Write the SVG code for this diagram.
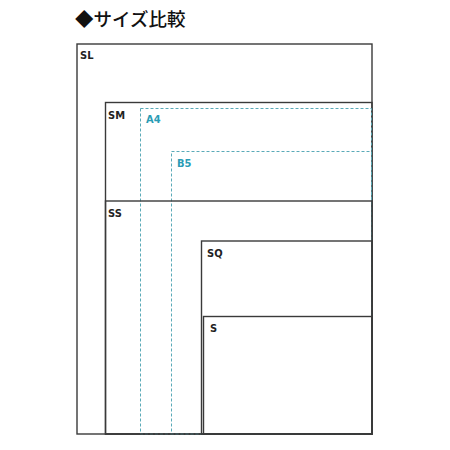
<svg xmlns="http://www.w3.org/2000/svg" width="450" height="450" viewBox="0 0 450 450">
<style>
.box{fill:none;stroke:#3a3a3a;stroke-width:1.4}
.dash{fill:none;stroke:#5aaab8;stroke-width:1;stroke-dasharray:3,2}
.lbl{font-family:"DejaVu Sans Condensed","DejaVu Sans",sans-serif;font-stretch:condensed;font-weight:bold;font-size:11px;fill:#222}
.lblc{font-family:"DejaVu Sans Condensed","DejaVu Sans",sans-serif;font-stretch:condensed;font-weight:bold;font-size:11px;fill:#2a9cb5}
.title{font-family:"Noto Sans CJK JP",sans-serif;font-size:18.5px;font-weight:500;fill:#111}
</style>
<rect width="450" height="450" fill="#fff"/>
<text class="title" x="75" y="26">◆サイズ比較</text>
<g id="SL"><rect class="box" x="77" y="44" width="295" height="390"/><text class="lbl" x="80" y="59">SL</text></g>
<g id="SM"><rect class="box" x="105.5" y="102.5" width="266.5" height="331.5"/><text class="lbl" x="108" y="119">SM</text></g>
<g id="A4"><rect class="dash" x="140.5" y="108.5" width="231" height="325.5"/><text class="lblc" x="146" y="123">A4</text></g>
<g id="B5"><rect class="dash" x="171.5" y="151.5" width="200" height="282.5"/><text class="lblc" x="177" y="167">B5</text></g>
<g id="SS"><rect class="box" x="105.5" y="201" width="266.5" height="233"/><text class="lbl" x="108" y="217">SS</text></g>
<g id="SQ"><rect class="box" x="201.5" y="241" width="170.5" height="193"/><text class="lbl" x="207" y="257">SQ</text></g>
<g id="S"><rect class="box" x="203.5" y="316.5" width="168.5" height="117.5"/><text class="lbl" x="210" y="332">S</text></g>
<g id="connectors"/>
</svg>
